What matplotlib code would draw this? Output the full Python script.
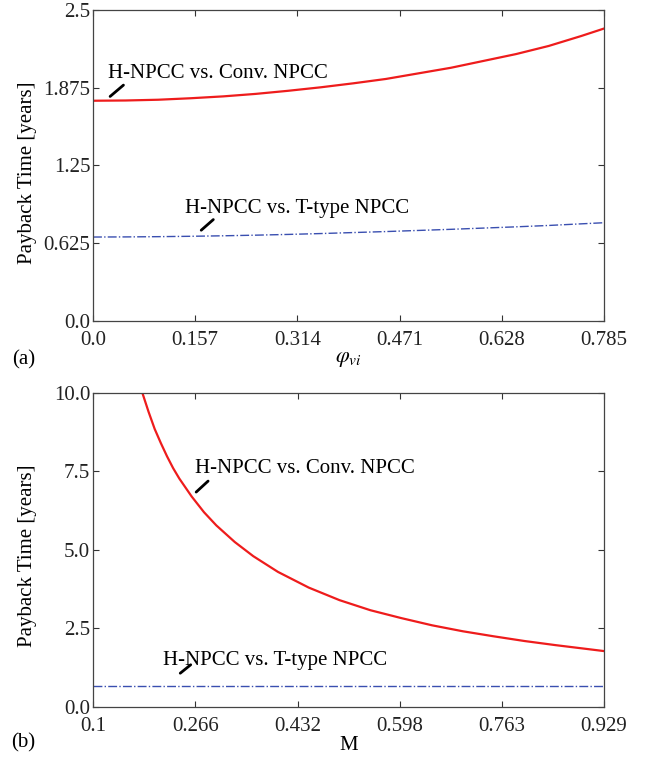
import matplotlib
matplotlib.use("Agg")
import matplotlib.pyplot as plt

plt.rcParams['font.family'] = ['Liberation Serif', 'DejaVu Serif']
plt.rcParams['mathtext.fontset'] = 'stix'
plt.rcParams['font.size'] = 15

# (a) payback time vs phi_vi
phi = [0.0, 0.05, 0.1, 0.15, 0.2, 0.25, 0.3, 0.35, 0.4, 0.45, 0.5, 0.55, 0.6, 0.65, 0.7, 0.75, 0.785]
conv_a = [1.77, 1.772, 1.778, 1.79, 1.805, 1.825, 1.85, 1.878, 1.91, 1.945, 1.99, 2.035, 2.09, 2.145, 2.21, 2.29, 2.35]
ttype_a = [0.675, 0.676, 0.678, 0.681, 0.685, 0.69, 0.696, 0.703, 0.711, 0.719, 0.728, 0.737, 0.747, 0.757, 0.768, 0.781, 0.79]

# (b) payback time vs M
M = [0.18, 0.19, 0.20, 0.21, 0.22, 0.23, 0.24, 0.26, 0.28, 0.30, 0.33, 0.36, 0.40,
     0.45, 0.50, 0.55, 0.60, 0.65, 0.70, 0.75, 0.80, 0.85, 0.90, 0.929]
conv_b = [10.0, 9.4, 8.85, 8.4, 7.98, 7.6, 7.27, 6.7, 6.2, 5.78, 5.25, 4.8, 4.3,
          3.8, 3.4, 3.08, 2.83, 2.6, 2.41, 2.25, 2.1, 1.97, 1.85, 1.78]
M_t = [0.1, 0.929]
ttype_b = [0.68, 0.68]

xt_a = [0.0, 0.157, 0.314, 0.471, 0.628, 0.785]
xl_a = ['0.0', '0.157', '0.314', '0.471', '0.628', '0.785']
yt_a = [0.0, 0.625, 1.25, 1.875, 2.5]
yl_a = ['0.0', '0.625', '1.25', '1.875', '2.5']
xt_b = [0.1, 0.266, 0.432, 0.598, 0.763, 0.929]
xl_b = ['0.1', '0.266', '0.432', '0.598', '0.763', '0.929']
yt_b = [0.0, 2.5, 5.0, 7.5, 10.0]
yl_b = ['0.0', '2.5', '5.0', '7.5', '10.0']

red = '#ee1c1c'
blue = '#3a4fb0'

fig = plt.figure(figsize=(6.46, 7.59), dpi=100)
ax1 = fig.add_axes([0.144, 0.577, 0.791, 0.410])
ax2 = fig.add_axes([0.144, 0.0685, 0.791, 0.414])


def style(ax, xt, xl, yt, yl):
    ax.set_xticks(xt)
    ax.set_xticklabels(xl)
    ax.set_yticks(yt)
    ax.set_yticklabels(yl)
    ax.tick_params(direction='in', length=4, width=0.8, top=True, right=True,
                   colors='#333333', labelcolor='#222222')
    ax.tick_params(axis='x', pad=7)
    ax.tick_params(axis='y', pad=2)
    for s in ax.spines.values():
        s.set_linewidth(0.9)
        s.set_color('#444444')


ax1.plot(phi, conv_a, color=red, lw=1.6)
ax1.plot(phi, ttype_a, color=blue, lw=1.0, ls='-.')
ax1.set_xlim(0, 0.785)
ax1.set_ylim(0, 2.5)
style(ax1, xt_a, xl_a, yt_a, yl_a)
ax1.set_ylabel('Payback Time [years]')
ax1.yaxis.set_label_coords(-0.11, 0.476)
ax1.set_xlabel(r'$\varphi_{vi}$', labelpad=0, fontsize=16)

ax1.text(0.023, 1.953, 'H-NPCC vs. Conv. NPCC', va='baseline', ha='left')
ax1.annotate('', xy=(0.023, 1.79), xytext=(0.05, 1.91),
             arrowprops=dict(arrowstyle='-', lw=2, color='black'))
ax1.text(0.142, 0.868, 'H-NPCC vs. T-type NPCC', va='baseline', ha='left')
ax1.annotate('', xy=(0.163, 0.715), xytext=(0.188, 0.83),
             arrowprops=dict(arrowstyle='-', lw=2, color='black'))

ax2.plot(M, conv_b, color=red, lw=1.6)
ax2.plot(M_t, ttype_b, color=blue, lw=1.0, ls='-.')
ax2.set_xlim(0.1, 0.929)
ax2.set_ylim(0, 10)
style(ax2, xt_b, xl_b, yt_b, yl_b)
ax2.set_ylabel('Payback Time [years]')
ax2.yaxis.set_label_coords(-0.11, 0.481)
ax2.set_xlabel('M', labelpad=0)

ax2.text(0.265, 7.45, 'H-NPCC vs. Conv. NPCC', va='baseline', ha='left')
ax2.annotate('', xy=(0.264, 6.78), xytext=(0.29, 7.25),
             arrowprops=dict(arrowstyle='-', lw=2, color='black'))
ax2.text(0.2136, 1.34, 'H-NPCC vs. T-type NPCC', va='baseline', ha='left')
ax2.annotate('', xy=(0.238, 1.02), xytext=(0.262, 1.4),
             arrowprops=dict(arrowstyle='-', lw=2, color='black'))

fig.text(0.018, 0.526, '(a)', ha='left', va='center')
fig.text(0.017, 0.021, '(b)', ha='left', va='center')

fig.savefig('out.png', dpi=100)
